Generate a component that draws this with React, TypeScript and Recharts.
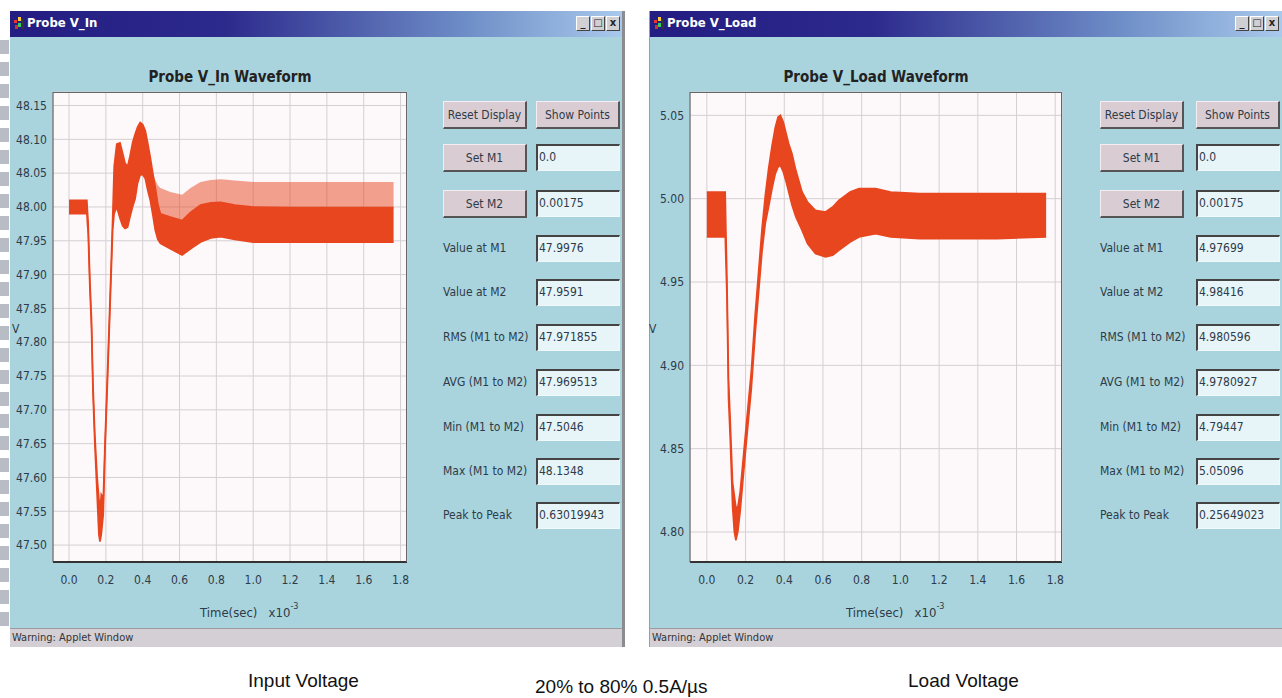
import React from 'react';
import { ComposedChart, Area, XAxis, YAxis, CartesianGrid } from 'recharts';

// time axis, in units of 1e-3 s
const timeTicks = [0, 0.2, 0.4, 0.6, 0.8, 1.0, 1.2, 1.4, 1.6, 1.8];

// Probe V_In : dense band (lo/hi) plus the lighter ringing spikes above it
const vinTime = [0, 0.097, 0.1, 0.104, 0.113, 0.122, 0.13, 0.14, 0.153, 0.162, 0.168, 0.175, 0.186, 0.195, 0.208, 0.222, 0.237, 0.245, 0.259, 0.277, 0.291, 0.304, 0.318, 0.331, 0.345, 0.359, 0.372, 0.386, 0.4, 0.414, 0.427, 0.441, 0.455, 0.468, 0.482, 0.496, 0.55, 0.614, 0.66, 0.714, 0.77, 0.824, 0.9, 1.0, 1.2, 1.4, 1.6, 1.762];
const vinLow = [47.99, 47.99, 47.975, 47.96, 47.88, 47.82, 47.725, 47.65, 47.57, 47.515, 47.505, 47.515, 47.545, 47.635, 47.735, 47.845, 47.965, 47.99, 48.0, 47.983, 47.972, 47.968, 47.97, 47.985, 48.0, 48.012, 48.035, 48.047, 48.048, 48.042, 48.025, 48.01, 47.988, 47.966, 47.952, 47.946, 47.938, 47.929, 47.938, 47.948, 47.954, 47.956, 47.952, 47.948, 47.948, 47.948, 47.948, 47.948];
const vinHigh = [48.01, 48.01, 47.995, 47.978, 47.895, 47.835, 47.74, 47.665, 47.6, 47.57, 47.55, 47.575, 47.57, 47.65, 47.75, 47.86, 47.985, 48.06, 48.093, 48.095, 48.08, 48.065, 48.06, 48.075, 48.095, 48.108, 48.118, 48.125, 48.122, 48.113, 48.095, 48.074, 48.05, 48.03, 48.005, 47.99, 47.985, 47.98, 47.992, 48.003, 48.006, 48.007, 48.003, 48.0, 47.999, 47.999, 47.999, 47.999];
const vinSpike = [null, null, null, null, null, null, null, null, null, null, null, null, null, null, null, null, null, null, null, 48.112, null, null, null, null, null, null, null, 48.136, null, null, null, null, 48.05, 48.04, 48.032, 48.028, 48.022, 48.018, 48.028, 48.037, 48.04, 48.041, 48.039, 48.037, 48.037, 48.037, 48.037, 48.037];
const vinTicks = [47.5, 47.55, 47.6, 47.65, 47.7, 47.75, 47.8, 47.85, 47.9, 47.95, 48.0, 48.05, 48.1, 48.15];

// Probe V_Load
const vloadTime = [0, 0.095, 0.099, 0.104, 0.112, 0.121, 0.133, 0.142, 0.15, 0.16, 0.172, 0.198, 0.23, 0.25, 0.285, 0.302, 0.319, 0.337, 0.354, 0.368, 0.38, 0.395, 0.41, 0.423, 0.44, 0.46, 0.492, 0.52, 0.561, 0.613, 0.65, 0.682, 0.74, 0.786, 0.872, 0.95, 1.1, 1.3, 1.5, 1.753];
const vloadLow = [4.977, 4.977, 4.96, 4.94, 4.88, 4.855, 4.815, 4.8, 4.795, 4.8, 4.812, 4.846, 4.886, 4.919, 4.968, 4.985, 4.995, 5.006, 5.015, 5.019, 5.02, 5.016, 5.01, 5.004, 4.996, 4.989, 4.981, 4.973, 4.967, 4.965, 4.966, 4.969, 4.974, 4.977, 4.979, 4.977, 4.976, 4.976, 4.976, 4.977];
const vloadHigh = [5.004, 5.004, 4.98, 4.952, 4.892, 4.867, 4.83, 4.822, 4.815, 4.815, 4.824, 4.857, 4.897, 4.931, 4.982, 5.002, 5.018, 5.032, 5.043, 5.049, 5.05, 5.046, 5.039, 5.033, 5.027, 5.017, 5.004, 4.998, 4.993, 4.992, 4.995, 4.999, 5.004, 5.006, 5.006, 5.004, 5.003, 5.003, 5.003, 5.003];
const vloadTicks = [4.8, 4.85, 4.9, 4.95, 5.0, 5.05];

const controlLabels = ['Value at M1', 'Value at M2', 'RMS (M1 to M2)', 'AVG (M1 to M2)', 'Min (M1 to M2)', 'Max (M1 to M2)', 'Peak to Peak'];
const vinFields = ['0.0', '0.00175', '47.9976', '47.9591', '47.971855', '47.969513', '47.5046', '48.1348', '0.63019943'];
const vloadFields = ['0.0', '0.00175', '4.97699', '4.98416', '4.980596', '4.9780927', '4.79447', '5.05096', '0.25649023'];

const WAVE = '#e8461f';
const BG = '#a9d4de';
const NARROW = "'Liberation Sans Narrow', 'Arial Narrow', 'DejaVu Sans Condensed', 'Liberation Sans', sans-serif";
const INK = '#2e3b48';

function makeRows(time: number[], low: number[], high: number[], spike?: (number | null)[]) {
  return time.map((t, i) => ({
    t,
    band: [low[i], high[i]],
    spike: spike && spike[i] != null ? [high[i], spike[i] as number] : null,
  }));
}

function Narrow({ children, style }: { children: React.ReactNode; style?: React.CSSProperties }) {
  return (
    <span style={{ position: 'absolute', fontFamily: NARROW, color: INK, whiteSpace: 'pre', ...style }}>
      {children}
    </span>
  );
}

function Waveform(props: {
  left: number;
  top: number;
  plotW: number;
  plotH: number;
  domain: [number, number];
  ticks: number[];
  rows: any[];
  withSpike: boolean;
}) {
  const { left, top, plotW, plotH, domain, ticks, rows, withSpike } = props;
  const yw = 45;
  const mt = 10;
  return (
    <div style={{ position: 'absolute', left, top }}>
      <ComposedChart width={yw + plotW + 10} height={mt + plotH + 32} data={rows} margin={{ top: mt, right: 10, bottom: 0, left: 0 }}>
        <CartesianGrid stroke="#d4d0d2" fill="#fdf8fa" />
        <XAxis
          type="number"
          dataKey="t"
          domain={[-0.087, 1.835]}
          ticks={timeTicks}
          tickFormatter={(v: number) => v.toFixed(1)}
          allowDataOverflow
          axisLine={{ stroke: '#333', strokeWidth: 2 }}
          tickLine={false}
          tickSize={7}
          tickMargin={6}
          height={32}
          tick={{ fontSize: 12, fill: INK, fontFamily: NARROW }}
        />
        <YAxis
          type="number"
          domain={domain}
          ticks={ticks}
          allowDataOverflow
          tickFormatter={(v: number) => v.toFixed(2)}
          axisLine={{ stroke: '#555' }}
          tickLine={false}
          tickSize={5}
          tickMargin={1}
          width={yw}
          tick={{ fontSize: 12, fill: INK, fontFamily: NARROW }}
        />
        {withSpike && (
          <Area
            type="linear"
            dataKey="spike"
            stroke="none"
            fill={WAVE}
            fillOpacity={0.5}
            isAnimationActive={false}
          />
        )}
        <Area
          type="linear"
          dataKey="band"
          stroke={WAVE}
          strokeWidth={1.6}
          fill={WAVE}
          fillOpacity={1}
          isAnimationActive={false}
        />
      </ComposedChart>
      <div
        style={{
          position: 'absolute',
          left: yw,
          top: mt,
          width: plotW,
          height: plotH,
          boxSizing: 'border-box',
          borderTop: '1px solid #666',
          borderRight: '1px solid #666',
          pointerEvents: 'none',
        }}
      />
    </div>
  );
}

function Button({ x, y, w, label }: { x: number; y: number; w: number; label: string }) {
  return (
    <div
      style={{
        position: 'absolute',
        left: x,
        top: y,
        width: w,
        height: 28,
        boxSizing: 'border-box',
        background: '#d9cdd3',
        borderTop: '1px solid #f4eef2',
        borderLeft: '1px solid #f4eef2',
        borderRight: '2px solid #555',
        borderBottom: '2px solid #555',
        fontFamily: NARROW,
        fontSize: 12,
        color: INK,
        display: 'flex',
        alignItems: 'center',
        justifyContent: 'center',
      }}
    >
      {label}
    </div>
  );
}

function Field({ x, y, w, value }: { x: number; y: number; w: number; value: string }) {
  return (
    <div
      style={{
        position: 'absolute',
        left: x,
        top: y,
        width: w,
        height: 27,
        boxSizing: 'border-box',
        background: '#e7f4f8',
        borderTop: '2px solid #444',
        borderLeft: '2px solid #444',
        borderRight: '1px solid #f0f8fa',
        borderBottom: '1px solid #f0f8fa',
        fontFamily: NARROW,
        fontSize: 12,
        color: INK,
        paddingLeft: 1,
        lineHeight: '22px',
      }}
    >
      {value}
    </div>
  );
}

function Controls({ x1, x2, w, fields }: { x1: number; x2: number; w: number; fields: string[] }) {
  const rowY = [101, 144, 190, 235, 279, 324, 369, 414, 458, 502];
  return (
    <>
      <Button x={x1} y={rowY[0]} w={w} label="Reset Display" />
      <Button x={x2} y={rowY[0]} w={w} label="Show Points" />
      <Button x={x1} y={rowY[1]} w={w} label="Set M1" />
      <Field x={x2} y={rowY[1]} w={w} value={fields[0]} />
      <Button x={x1} y={rowY[2]} w={w} label="Set M2" />
      <Field x={x2} y={rowY[2]} w={w} value={fields[1]} />
      {controlLabels.map((lab, i) => (
        <React.Fragment key={lab}>
          <Narrow style={{ left: x1, top: rowY[i + 3] + 6, fontSize: 12 }}>{lab}</Narrow>
          <Field x={x2} y={rowY[i + 3]} w={w} value={fields[i + 2]} />
        </React.Fragment>
      ))}
    </>
  );
}

function TitleBar({ x, w, title }: { x: number; w: number; title: string }) {
  return (
    <div
      style={{
        position: 'absolute',
        left: x,
        top: 11,
        width: w,
        height: 26,
        background: 'linear-gradient(to right, #241d82 0%, #2c2a8c 35%, #6f8fc8 75%, #a9c9ec 100%)',
      }}
    >
      <div style={{ position: 'absolute', left: 4, top: 6, width: 10, height: 14 }}>
        <div style={{ position: 'absolute', left: 0, top: 3, width: 3, height: 3, background: '#e33' }} />
        <div style={{ position: 'absolute', left: 4, top: 0, width: 3, height: 4, background: '#fc3' }} />
        <div style={{ position: 'absolute', left: 4, top: 6, width: 3, height: 4, background: '#3c6' }} />
        <div style={{ position: 'absolute', left: 7, top: 2, width: 3, height: 10, background: '#333' }} />
        <div style={{ position: 'absolute', left: 1, top: 8, width: 3, height: 4, background: '#c33' }} />
      </div>
      <span
        style={{
          position: 'absolute',
          left: 17,
          top: 4,
          fontFamily: NARROW,
          fontWeight: 'bold',
          fontSize: 13,
          color: '#fff',
        }}
      >
        {title}
      </span>
      {['_', '\u25a1', 'x'].map((s, i) => (
        <div
          key={s}
          style={{
            position: 'absolute',
            right: 3 + (2 - i) * 15,
            top: 5,
            width: 14,
            height: 15,
            boxSizing: 'border-box',
            background: '#d0d0d4',
            borderTop: '1px solid #fff',
            borderLeft: '1px solid #fff',
            borderRight: '1px solid #444',
            borderBottom: '1px solid #444',
            fontFamily: 'DejaVu Sans, sans-serif',
            fontSize: 10,
            fontWeight: 'bold',
            color: '#222',
            textAlign: 'center',
            lineHeight: '12px',
          }}
        >
          {s}
        </div>
      ))}
    </div>
  );
}

function Window(props: {
  x: number;
  w: number;
  title: string;
  chartTitle: string;
  chartLeft: number;
  plotW: number;
  domain: [number, number];
  ticks: number[];
  rows: any[];
  withSpike: boolean;
  ctrlX1: number;
  ctrlX2: number;
  fields: string[];
}) {
  const { x, w, title, chartTitle, chartLeft, plotW, domain, ticks, rows, withSpike, ctrlX1, ctrlX2, fields } = props;
  const plotLeft = chartLeft + 45;
  const cx = plotLeft + plotW / 2;
  return (
    <>
      <div style={{ position: 'absolute', left: x, top: 37, width: w, height: 591, background: BG }} />
      <div
        style={{
          position: 'absolute',
          left: x,
          top: 628,
          width: w,
          height: 19,
          background: '#d3cfd4',
          borderTop: '1px solid #9a9aa0',
          boxSizing: 'border-box',
        }}
      >
        <Narrow style={{ left: 2, top: 2, fontSize: 11, color: '#333' }}>{'Warning: Applet Window'}</Narrow>
      </div>
      <TitleBar x={x} w={w} title={title} />
      <span
        style={{
          position: 'absolute',
          left: cx - 150,
          width: 300,
          top: 68,
          textAlign: 'center',
          fontFamily: NARROW,
          fontWeight: 'bold',
          fontSize: 15,
          color: '#222',
        }}
      >
        {chartTitle}
      </span>
      <Waveform left={chartLeft} top={82} plotW={plotW} plotH={470} domain={domain} ticks={ticks} rows={rows} withSpike={withSpike} />
      <Narrow style={{ left: chartLeft + 4, top: 322, fontSize: 12 }}>V</Narrow>
      <Narrow style={{ left: cx - 30, top: 604, fontSize: 13 }}>
        {'Time(sec)   x10'}
        <sup style={{ fontSize: 9, position: 'relative', top: -3 }}>-3</sup>
      </Narrow>
      <Controls x1={ctrlX1} x2={ctrlX2} w={84} fields={fields} />
    </>
  );
}

export default function App() {
  const vinRows = makeRows(vinTime, vinLow, vinHigh, vinSpike);
  const vloadRows = makeRows(vloadTime, vloadLow, vloadHigh);
  const caption: React.CSSProperties = {
    position: 'absolute',
    fontFamily: "'Liberation Sans', Arial, sans-serif",
    fontSize: 19,
    color: '#111',
    whiteSpace: 'nowrap',
  };
  return (
    <div style={{ position: 'absolute', left: 0, top: 0, width: 1282, height: 698, background: '#fff', overflow: 'hidden' }}>
      {/* dashed strip on the far left edge */}
      <div
        style={{
          position: 'absolute',
          left: 0,
          top: 40,
          width: 9,
          height: 590,
          background: 'repeating-linear-gradient(to bottom, #b8bcc4 0px, #b8bcc4 14px, #ffffff 14px, #ffffff 22px)',
        }}
      />
      <Window
        x={10}
        w={613}
        title="Probe V_In"
        chartTitle="Probe V_In Waveform"
        chartLeft={8}
        plotW={354}
        domain={[47.475, 48.17]}
        ticks={vinTicks}
        rows={vinRows}
        withSpike
        ctrlX1={443}
        ctrlX2={536}
        fields={vinFields}
      />
      <div style={{ position: 'absolute', left: 622, top: 11, width: 3, height: 636, background: '#8a8c90' }} />
      <div style={{ position: 'absolute', left: 649, top: 11, width: 1, height: 636, background: '#9a9ca0' }} />
      <Window
        x={650}
        w={632}
        title="Probe V_Load"
        chartTitle="Probe V_Load Waveform"
        chartLeft={645}
        plotW={372}
        domain={[4.782, 5.064]}
        ticks={vloadTicks}
        rows={vloadRows}
        withSpike={false}
        ctrlX1={1100}
        ctrlX2={1196}
        fields={vloadFields}
      />
      <span style={{ ...caption, left: 248, top: 670 }}>Input Voltage</span>
      <span style={{ ...caption, left: 535, top: 676 }}>20% to 80% 0.5A/µs</span>
      <span style={{ ...caption, left: 908, top: 670 }}>Load Voltage</span>
    </div>
  );
}
